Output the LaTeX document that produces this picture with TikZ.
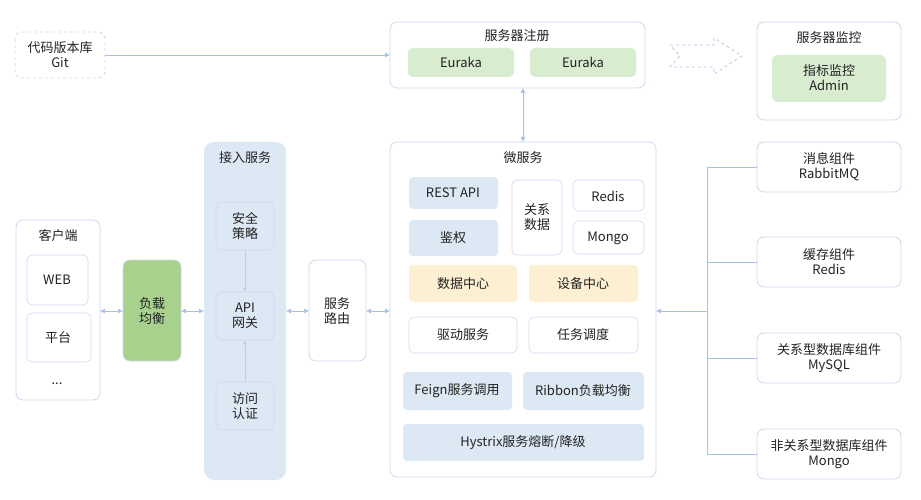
\documentclass[tikz,border=0pt]{standalone}
\usepackage{fontspec}
\setmainfont{Noto Sans CJK SC}
\usetikzlibrary{arrows.meta}
\definecolor{bd}{HTML}{CCD8EE}
\definecolor{bl}{HTML}{DDE8F5}
\definecolor{gl}{HTML}{D8ECD0}
\definecolor{gd}{HTML}{A9D18E}
\definecolor{yl}{HTML}{FDF0D2}
\definecolor{ln}{HTML}{A9BFE6}
\definecolor{tx}{HTML}{222222}
\begin{document}
\begin{tikzpicture}[x=1pt,y=-1pt,
  box/.style={draw=bd,line width=0.8pt,rounded corners=7pt,fill=white},
  inn/.style={draw=bd,line width=0.6pt,rounded corners=5pt,fill=white},
  t/.style={font=\fontsize{13}{15}\selectfont,text=tx,align=center},
  conn/.style={draw=ln,line width=0.7pt},
  da/.style={conn,{Latex[length=5pt,width=5pt]}-{Latex[length=5pt,width=5pt]}},
  sa/.style={conn,-{Latex[length=5pt,width=5pt]}}]
\useasboundingbox (0,0) rectangle (921,500);
% Git
\draw[draw=bd,dashed,rounded corners=7pt,line width=0.8pt] (15,32) rectangle (105,78);
\node[t] (git) at (60,55) {代码版本库\\Git};
\coordinate (gitR) at (105,55);
% registration
\draw[box] (390,22) rectangle (645,88);
\coordinate (regL) at (390,55); \coordinate (regB) at (523,88);
\node[t] (regt) at (517,36) {服务器注册};
\fill[gl,rounded corners=5pt] (408,48) rectangle (514,77); \node[t] (e1) at (461,62) {Euraka};
\fill[gl,rounded corners=5pt] (530,48) rectangle (636,77); \node[t] (e2) at (583,62) {Euraka};
\draw[sa] (gitR) -- (regL);
% hollow arrow
\draw[draw=ln,dashed,line width=0.7pt] (670,45) -- (714,45) -- (714,38) -- (742,56) -- (714,74) -- (714,67) -- (670,67) -- (680,56) -- cycle;
% monitoring
\draw[box] (757,22) rectangle (901,120);
\node[t] (mont) at (829,38) {服务器监控};
\fill[gl,rounded corners=6pt] (772,55) rectangle (886,102);
\node[t] (adm) at (829,78) {指标监控\\Admin};
% microservices
\draw[box] (390,142) rectangle (656,477);
\coordinate (msT) at (523,142); \coordinate (msL) at (390,311); \coordinate (msR) at (656,311);
\node[t] (mst) at (523,158) {微服务};
\draw[da] (regB) -- (msT);
\fill[bl,rounded corners=4pt] (409,177) rectangle (498,209); \node[t] (rest) at (453,193) {REST API};
\fill[bl,rounded corners=4pt] (409,220) rectangle (498,256); \node[t] (auth) at (453,238) {鉴权};
\draw[inn] (512,180) rectangle (562,255); \node[t] (rel) at (537,217) {关系\\数据};
\draw[inn] (573,180) rectangle (644,211); \node[t] (redis) at (608,196) {Redis};
\draw[inn] (573,221) rectangle (644,254); \node[t] (mongo) at (608,238) {Mongo};
\fill[yl,rounded corners=4pt] (409,265) rectangle (517,302); \node[t] (dc) at (463,284) {数据中心};
\fill[yl,rounded corners=4pt] (529,265) rectangle (638,302); \node[t] (ec) at (583,284) {设备中心};
\draw[inn] (409,317) rectangle (517,353); \node[t] (drv) at (463,335) {驱动服务};
\draw[inn] (529,317) rectangle (638,353); \node[t] (task) at (583,335) {任务调度};
\fill[bl,rounded corners=4pt] (403,372) rectangle (512,410); \node[t] (feign) at (457,391) {Feign服务调用};
\fill[bl,rounded corners=4pt] (523,372) rectangle (644,410); \node[t] (ribbon) at (583,391) {Ribbon负载均衡};
\fill[bl,rounded corners=4pt] (403,424) rectangle (644,461); \node[t] (hys) at (523,443) {Hystrix服务熔断/降级};
% client
\draw[box] (16,220) rectangle (100,400);
\coordinate (clR) at (100,311);
\node[t] (clt) at (58,236) {客户端};
\draw[inn] (27,255) rectangle (88,305); \node[t] (web) at (57,280) {WEB};
\draw[inn] (27,313) rectangle (91,362); \node[t] (plat) at (58,338) {平台};
\node[t] (dots) at (57,384) {...};
% LB
\draw[draw=bd,fill=gd,rounded corners=7pt,line width=0.6pt] (123,260) rectangle (181,361);
\coordinate (lbL) at (123,311); \coordinate (lbR) at (181,311);
\node[t] (lb) at (152,311) {负载\\均衡};
% access
\fill[bl,rounded corners=10pt] (204,142) rectangle (286,480);
\coordinate (acL) at (204,311); \coordinate (acR) at (286,311);
\node[t] (act) at (245,158) {接入服务};
\draw[draw=bd,fill=bl,rounded corners=5pt,line width=0.6pt] (216,202) rectangle (274,250); \node[t] (sec) at (245,226) {安全\\策略};
\draw[draw=bd,fill=bl,rounded corners=5pt,line width=0.6pt] (216,292) rectangle (274,340); \node[t] (api) at (245,316) {API\\网关};
\draw[draw=bd,fill=bl,rounded corners=5pt,line width=0.6pt] (216,382) rectangle (274,430); \node[t] (acc) at (245,406) {访问\\认证};
\draw[draw=black!20,line width=0.6pt,-{Latex[length=4pt,width=4pt]}] (245,250) -- (245,292);
\draw[draw=black!20,line width=0.6pt,-{Latex[length=4pt,width=4pt]}] (245,382) -- (245,340);
% route
\draw[box] (309,260) rectangle (366,361);
\coordinate (rtL) at (309,311); \coordinate (rtR) at (366,311);
\node[t] (rt) at (337,311) {服务\\路由};
\draw[da] (clR) -- (lbL);
\draw[da] (lbR) -- (acL);
\draw[da] (acR) -- (rtL);
\draw[da] (rtR) -- (msL);
% right components
\foreach \y/\a/\b/\n in {167/消息组件/RabbitMQ/r1,262/缓存组件/Redis/r2,358/关系型数据库组件/MySQL/r3,454/非关系型数据库组件/Mongo/r4}{
  \draw[box] (757,\y-25) rectangle (901,\y+25);
  \node[t] (\n) at (829,\y) {\a\\\b};
  \draw[conn] (707,\y) -- (757,\y);
}
\draw[conn] (707,167) -- (707,454);
\coordinate (tree) at (707,311);
\draw[sa] (tree) -- (msR);
\end{tikzpicture}
\end{document}
